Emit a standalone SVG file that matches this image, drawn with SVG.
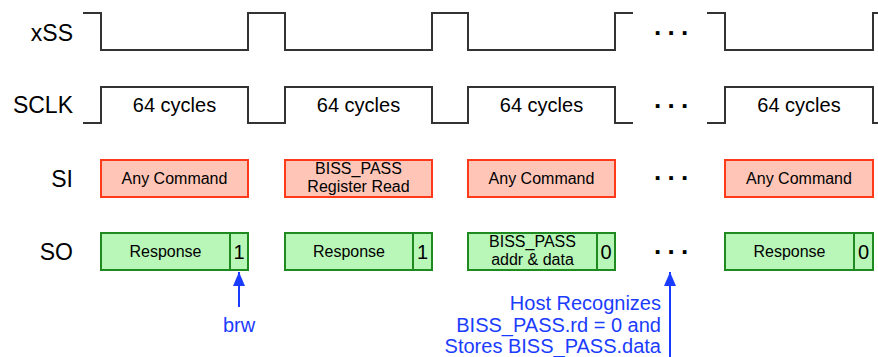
<svg xmlns="http://www.w3.org/2000/svg" width="878" height="357" viewBox="0 0 878 357">
<style>
.wave{fill:none;stroke:#333;stroke-width:2}
.lbl{font-family:"Liberation Sans",Arial,sans-serif;font-size:23px;fill:#000;text-anchor:end}
.cyc{font-family:"Liberation Sans",Arial,sans-serif;font-size:20px;fill:#000;text-anchor:middle}
.si rect{fill:#ffc6b8;stroke:#ff3a1a;stroke-width:2}
.so rect{fill:#b8f7b8;stroke:#1f8a1f;stroke-width:2}
.so line{stroke:#1f8a1f;stroke-width:2}
.t{font-family:"Liberation Sans",Arial,sans-serif;font-size:16px;fill:#000;text-anchor:middle}
.bit{font-family:"Liberation Sans",Arial,sans-serif;font-size:20px;fill:#000;text-anchor:middle}
.dots{font-family:"Liberation Sans",Arial,sans-serif;font-size:26px;font-weight:bold;fill:#000;letter-spacing:6.3px}
.blue{font-family:"Liberation Sans",Arial,sans-serif;font-size:20px;fill:#1a3cff}
.arr{stroke:#1a3cff;stroke-width:2;fill:none}
</style>
<defs>
<marker id="ah" viewBox="0 0 14 12" refX="14" refY="6" markerWidth="14" markerHeight="12" markerUnits="userSpaceOnUse" orient="auto">
<path d="M0,0 L14,6 L0,12 Z" fill="#1a3cff"/>
</marker>
</defs>
<g id="labels">
<text class="lbl" x="73" y="41">xSS</text>
<text class="lbl" x="73" y="113">SCLK</text>
<text class="lbl" x="73" y="187">SI</text>
<text class="lbl" x="73" y="260">SO</text>
</g>
<g id="xss">
<polyline class="wave" points="83,13 101,13 101,50 248,50 248,13 285,13 285,50 432,50 432,13 468,13 468,50 615,50 615,13 633,13"/>
<polyline class="wave" points="707,13 725,13 725,50 873,50 873,13 878,13"/>
<text class="dots" x="654" y="35">...</text>
</g>
<g id="sclk">
<polyline class="wave" points="83,123 101,123 101,87 248,87 248,123 285,123 285,87 432,87 432,123 468,123 468,87 615,87 615,123 633,123"/>
<polyline class="wave" points="707,123 725,123 725,87 873,87 873,123 878,123"/>
<text class="cyc" x="174.5" y="112">64 cycles</text>
<text class="cyc" x="358.5" y="112">64 cycles</text>
<text class="cyc" x="541.5" y="112">64 cycles</text>
<text class="cyc" x="799" y="112">64 cycles</text>
<text class="dots" x="654" y="108">...</text>
</g>
<g id="si" class="si">
<g id="si1"><rect x="101" y="160" width="147" height="37"/><text class="t" x="174.5" y="184">Any Command</text></g>
<g id="si2"><rect x="285" y="160" width="147" height="37"/><text class="t" x="358.5" y="174">BISS_PASS</text><text class="t" x="358.5" y="192">Register Read</text></g>
<g id="si3"><rect x="468" y="160" width="147" height="37"/><text class="t" x="541.5" y="184">Any Command</text></g>
<g id="si4"><rect x="725" y="160" width="148" height="37"/><text class="t" x="799" y="184">Any Command</text></g>
<text class="dots" x="654" y="180">...</text>
</g>
<g id="so" class="so">
<g id="so1"><rect x="101" y="233" width="147" height="37"/><line x1="230" y1="233" x2="230" y2="270"/><text class="t" x="165.5" y="257">Response</text><text class="bit" x="239" y="259">1</text></g>
<g id="so2"><rect x="285" y="233" width="147" height="37"/><line x1="413" y1="233" x2="413" y2="270"/><text class="t" x="349" y="257">Response</text><text class="bit" x="422.5" y="259">1</text></g>
<g id="so3"><rect x="468" y="233" width="147" height="37"/><line x1="597" y1="233" x2="597" y2="270"/><text class="t" x="532.5" y="247">BISS_PASS</text><text class="t" x="532.5" y="265">addr &amp; data</text><text class="bit" x="606" y="259">0</text></g>
<g id="so4"><rect x="725" y="233" width="148" height="37"/><line x1="854" y1="233" x2="854" y2="270"/><text class="t" x="789.5" y="257">Response</text><text class="bit" x="863.5" y="259">0</text></g>
<text class="dots" x="654" y="254">...</text>
</g>
<g id="connectors">
<line class="arr" x1="239" y1="307" x2="239" y2="272" marker-end="url(#ah)"/>
<line class="arr" x1="670" y1="357" x2="670" y2="272" marker-end="url(#ah)"/>
</g>
<g id="annotations">
<text class="blue" x="239" y="332" text-anchor="middle">brw</text>
<text class="blue" x="661" y="310" text-anchor="end">Host Recognizes</text>
<text class="blue" x="661" y="332" text-anchor="end">BISS_PASS.rd = 0 and</text>
<text class="blue" x="661" y="353" text-anchor="end">Stores BISS_PASS.data</text>
</g>
</svg>
